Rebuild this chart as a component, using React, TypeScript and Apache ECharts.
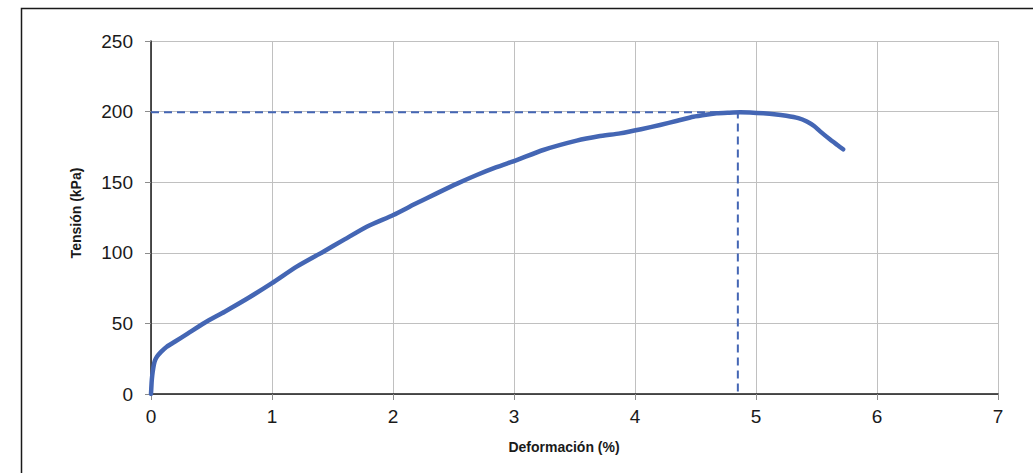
import React, { useEffect, useRef } from "react";
import * as echarts from "echarts";

const strain = [0, 0.005, 0.01, 0.02, 0.03, 0.05, 0.085, 0.13, 0.196, 0.306, 0.444, 0.609, 0.8, 1.0, 1.204, 1.424, 1.6, 1.783, 2.003, 2.18, 2.361, 2.53, 2.692, 2.85, 3.022, 3.242, 3.518, 3.7, 3.876, 4.05, 4.207, 4.35, 4.482, 4.6, 4.675, 4.77, 4.87, 4.95, 5.06, 5.15, 5.25, 5.35, 5.42, 5.48, 5.53, 5.61, 5.67, 5.72];
const stress = [0, 8, 13, 19, 23, 26.5, 30, 33.5, 37, 43, 50.5, 58.3, 67.8, 78.5, 90.2, 100.8, 109.5, 118.5, 126.8, 134.5, 142.1, 149, 155.1, 160.5, 165.7, 172.8, 179.4, 182.5, 184.6, 187.5, 190.5, 193.5, 196.4, 198, 198.8, 199.2, 199.5, 199.3, 198.8, 198.2, 197.1, 195.4, 193, 189.8, 186, 180.4, 176.5, 173.3];
const peakStrain = 4.85;
const peakStress = 199.5;
const xTitle = "Deformación (%)";
const yTitle = "Tensión (kPa)";

export default function App() {
  const ref = useRef<HTMLDivElement>(null);
  useEffect(() => {
    const chart = echarts.init(ref.current!, null, { renderer: "svg" });
    const font = "'Liberation Sans', Arial, sans-serif";
    chart.setOption({
      animation: false,
      backgroundColor: "#ffffff",
      grid: { left: 151, top: 41, right: 35, bottom: 79, containLabel: false },
      xAxis: {
        type: "value",
        min: 0,
        max: 7,
        interval: 1,
        axisLine: { show: true, onZero: false, lineStyle: { color: "#1a1a1a", width: 1.5 } },
        axisTick: { show: true, length: 6, lineStyle: { color: "#8c8c8c" } },
        axisLabel: { margin: 13, fontSize: 19, color: "#1a1a1a", fontFamily: font },
        splitLine: { show: true, lineStyle: { color: "#c0c0c0", width: 1 } },
      },
      yAxis: {
        type: "value",
        min: 0,
        max: 250,
        interval: 50,
        axisLine: { show: true, onZero: false, lineStyle: { color: "#1a1a1a", width: 1.5 } },
        axisTick: { show: true, length: 6, lineStyle: { color: "#8c8c8c" } },
        axisLabel: { margin: 18, fontSize: 19, color: "#1a1a1a", fontFamily: font },
        splitLine: { show: true, lineStyle: { color: "#c0c0c0", width: 1 } },
      },
      graphic: [
        {
          type: "rect",
          shape: { x: 21.5, y: 8.5, width: 1200, height: 1000 },
          style: { fill: "none", stroke: "#1a1a1a", lineWidth: 1.5 },
          silent: true,
        },
        {
          type: "text",
          x: 564,
          y: 447,
          style: { text: xTitle, font: `bold 14px ${font}`, fill: "#1a1a1a", align: "center", verticalAlign: "middle" },
        },
        {
          type: "text",
          x: 76,
          y: 213,
          rotation: Math.PI / 2,
          style: { text: yTitle, font: `bold 14px ${font}`, fill: "#1a1a1a", align: "center", verticalAlign: "middle" },
        },
      ],
      series: [
        {
          type: "line",
          data: [[0, peakStress], [peakStrain, peakStress], [peakStrain, 0]],
          showSymbol: false,
          lineStyle: { color: "#4466B4", width: 2, type: [8, 5] },
          silent: true,
          z: 1,
        },
        {
          type: "line",
          data: strain.map((s, i) => [s, stress[i]]),
          showSymbol: false,
          smooth: 0.2,
          lineStyle: { color: "#4466B4", width: 4.5, cap: "round", join: "round" },
          silent: true,
          z: 2,
        },
      ],
    });
    return () => chart.dispose();
  }, []);
  return <div ref={ref} style={{ position: "fixed", left: 0, top: 0, width: 1033, height: 473 }} />;
}
